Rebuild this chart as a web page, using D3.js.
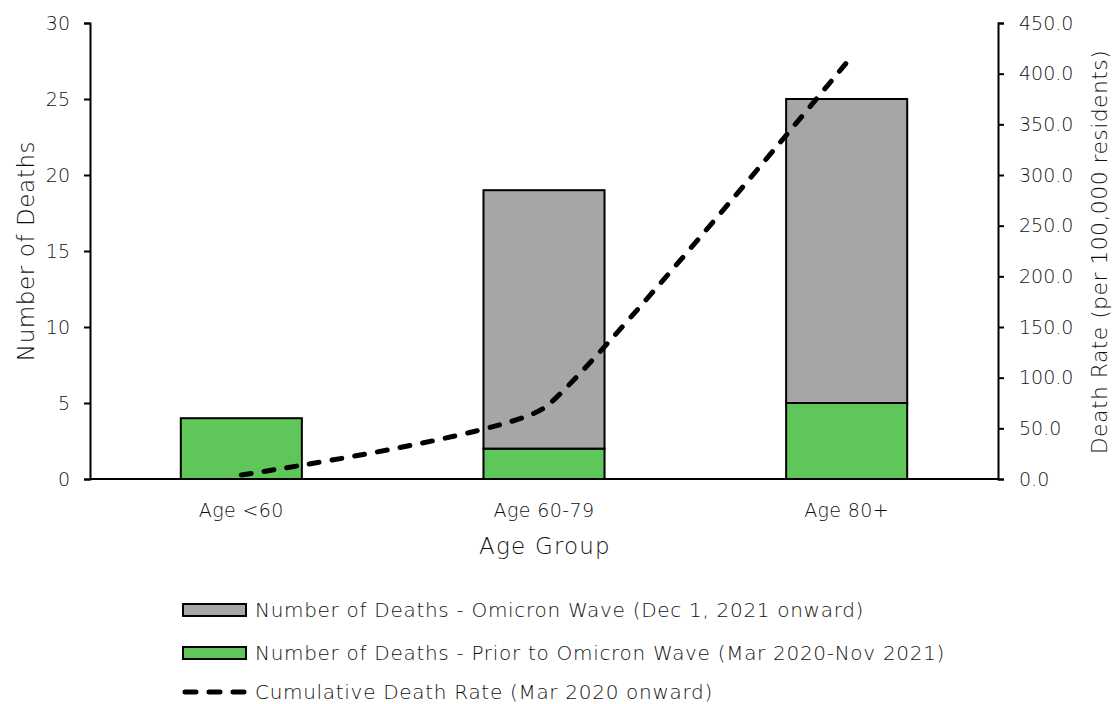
<!DOCTYPE html>
<html>
<head>
<meta charset="utf-8">
<script src="https://cdn.jsdelivr.net/npm/d3@7"></script>
<style>
  body { margin: 0; background: #fff; }
  svg text { font-family: "DejaVu Sans", sans-serif; font-weight: 300; fill: #111; }
</style>
</head>
<body>
<svg id="chart" width="1113" height="704"></svg>
<script>
// categories and values
var ageGroups = ["Age <60", "Age 60-79", "Age 80+"];
var priorDeaths = [4, 2, 5];
var omicronDeaths = [0, 17, 20];
var deathRate = [4, 70, 411];
var leftTicks = [0, 5, 10, 15, 20, 25, 30];
var rightTicks = [0, 50, 100, 150, 200, 250, 300, 350, 400, 450];

var svg = d3.select("#chart");
var plotLeft = 90, plotRight = 998, plotTop = 23, plotBottom = 479;

var x = d3.scaleBand()
    .domain(ageGroups)
    .range([plotLeft, plotRight])
    .paddingInner(0.6)
    .paddingOuter(0.3);

var y = d3.scaleLinear().domain([0, 30]).range([plotBottom, plotTop]);
var y2 = d3.scaleLinear().domain([0, 450]).range([plotBottom, plotTop]);

// stacked bars
var rows = ageGroups.map(function(g, i) {
    return { group: g, prior: priorDeaths[i], omicron: omicronDeaths[i] };
});
var stack = d3.stack().keys(["prior", "omicron"])(rows);
var colors = { prior: "#5fc65a", omicron: "#a6a6a6" };

svg.append("g").selectAll("g")
    .data(stack)
    .enter().append("g")
    .attr("fill", function(s) { return colors[s.key]; })
    .selectAll("rect")
    .data(function(s) { return s.filter(function(d) { return d[1] - d[0] > 0; }); })
    .enter().append("rect")
    .attr("x", function(d) { return x(d.data.group); })
    .attr("width", x.bandwidth())
    .attr("y", function(d) { return y(d[1]); })
    .attr("height", function(d) { return y(d[0]) - y(d[1]); })
    .attr("stroke", "#000")
    .attr("stroke-width", 2);

// x baseline
svg.append("line")
    .attr("x1", plotLeft).attr("x2", plotRight)
    .attr("y1", plotBottom).attr("y2", plotBottom)
    .attr("stroke", "#000").attr("stroke-width", 2);

// left axis
var yAxis = svg.append("g")
    .attr("transform", "translate(" + plotLeft + ",0)")
    .call(d3.axisLeft(y).tickValues(leftTicks).tickSize(6).tickPadding(14));
yAxis.select(".domain").attr("stroke-width", 2);
yAxis.selectAll(".tick line").attr("stroke-width", 2);
yAxis.selectAll("text").style("font-size", "19px").attr("fill", "#111");

// right axis
var y2Axis = svg.append("g")
    .attr("transform", "translate(" + plotRight + ",0)")
    .call(d3.axisRight(y2).tickValues(rightTicks).tickSize(6).tickPadding(15)
        .tickFormat(d3.format(".1f")));
y2Axis.select(".domain").attr("stroke-width", 2);
y2Axis.selectAll(".tick line").attr("stroke-width", 2);
y2Axis.selectAll("text").style("font-size", "19px").attr("fill", "#111");

// category labels
svg.append("g").selectAll("text")
    .data(ageGroups)
    .enter().append("text")
    .attr("x", function(d) { return x(d) + x.bandwidth() / 2; })
    .attr("y", 517)
    .attr("text-anchor", "middle")
    .style("font-size", "19px")
    .style("letter-spacing", "0.4px")
    .text(function(d) { return d; });

// axis titles
svg.append("text")
    .attr("x", 545).attr("y", 554)
    .attr("text-anchor", "middle")
    .style("font-size", "23px")
    .style("letter-spacing", "1.2px")
    .text("Age Group");

svg.append("text")
    .attr("transform", "translate(34,251) rotate(-90)")
    .attr("text-anchor", "middle")
    .style("font-size", "23px")
    .style("letter-spacing", "0.6px")
    .text("Number of Deaths");

svg.append("text")
    .attr("transform", "translate(1107,252) rotate(-90)")
    .attr("text-anchor", "middle")
    .style("font-size", "22px")
    .style("letter-spacing", "0.4px")
    .text("Death Rate (per 100,000 residents)");

// cumulative death rate line
var line = d3.line()
    .x(function(d, i) { return x(ageGroups[i]) + x.bandwidth() / 2; })
    .y(function(d) { return y2(d); })
    .curve(d3.curveCardinal.tension(0.6));

svg.append("path")
    .datum(deathRate)
    .attr("d", line)
    .attr("fill", "none")
    .attr("stroke", "#000")
    .attr("stroke-width", 5)
    .attr("stroke-linecap", "round")
    .attr("stroke-dasharray", "10,13");

// legend
var legendItems = [
    { label: "Number of Deaths - Omicron Wave (Dec 1, 2021 onward)", type: "rect", color: colors.omicron },
    { label: "Number of Deaths - Prior to Omicron Wave (Mar 2020-Nov 2021)", type: "rect", color: colors.prior },
    { label: "Cumulative Death Rate (Mar 2020 onward)", type: "line" }
];
var legendY = [610, 653, 692];

var lg = svg.append("g").selectAll("g")
    .data(legendItems)
    .enter().append("g")
    .attr("transform", function(d, i) { return "translate(183," + legendY[i] + ")"; });

lg.filter(function(d) { return d.type === "rect"; })
    .append("rect")
    .attr("x", 0).attr("y", -6)
    .attr("width", 63).attr("height", 12)
    .attr("fill", function(d) { return d.color; })
    .attr("stroke", "#000").attr("stroke-width", 2);

lg.filter(function(d) { return d.type === "line"; })
    .append("line")
    .attr("x1", 2).attr("x2", 62)
    .attr("y1", 0).attr("y2", 0)
    .attr("stroke", "#000").attr("stroke-width", 5)
    .attr("stroke-linecap", "round")
    .attr("stroke-dasharray", "11,13");

lg.append("text")
    .attr("x", 72).attr("y", 0)
    .attr("dy", "0.35em")
    .style("font-size", "20px")
    .style("letter-spacing", "0.7px")
    .text(function(d) { return d.label; });
</script>
</body>
</html>
